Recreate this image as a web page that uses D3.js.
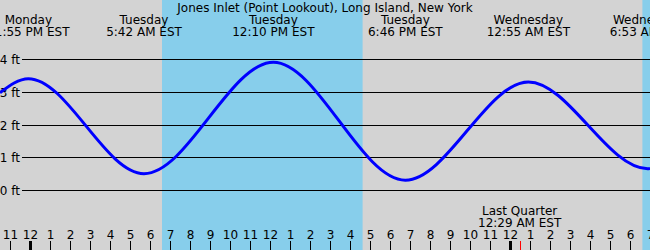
<!DOCTYPE html>
<html>
<head>
<meta charset="utf-8">
<script src="https://cdn.jsdelivr.net/npm/d3@7"></script>
<style>
  body { margin: 0; background: #d3d3d3; }
  svg { display: block; font-family: "DejaVu Sans", sans-serif; font-size: 12px; }
</style>
</head>
<body>
<svg id="chart" width="650" height="250"></svg>
<script>
// hours counted from Tuesday 00:00 EST
const title = 'Jones Inlet (Point Lookout), Long Island, New York';

// tide curve points (edges + highs/lows), height in ft
const tideHours = [-1.5, -0.083, 5.7, 12.167, 18.767, 24.917, 30.883, 31];
const tideFeet = [2.97, 3.4, 0.5, 3.9, 0.3, 3.3, 0.65, 0.66];

// high/low labels at the top
const eventHours = [-0.083, 5.7, 12.167, 18.767, 24.917, 30.883];
const eventDays = ['Monday', 'Tuesday', 'Tuesday', 'Tuesday', 'Wednesday', 'Wednesday'];
const eventTimes = ['11:55 PM EST', '5:42 AM EST', '12:10 PM EST', '6:46 PM EST', '12:55 AM EST', '6:53 AM EST'];

// daylight spans (sunrise, sunset)
const daylight = [[6.6, 16.63], [30.62, 40]];

const feetTicks = [0, 1, 2, 3, 4];
const hourTicks = d3.range(-1, 32);

// moon phase
const moonHour = 24.483;
const moonLines = ['Last Quarter', '12:29 AM EST'];

const W = 650, H = 250;
const svg = d3.select('#chart');

const x = d3.scaleLinear().domain([-1.5, 31]).range([0, W]);
const y = d3.scaleLinear().domain([0, 4]).range([190, 59]);

svg.append('rect').attr('width', W).attr('height', H).attr('fill', '#d3d3d3');

// daytime bands
svg.selectAll('rect.day').data(daylight).enter().append('rect')
    .attr('class', 'day')
    .attr('x', d => x(d[0]))
    .attr('y', 0)
    .attr('width', d => x(d[1]) - x(d[0]))
    .attr('height', H)
    .attr('fill', '#87ceeb');

// horizontal ft lines + labels
feetTicks.forEach(f => {
    const yy = Math.round(y(f)) + 0.5;
    svg.append('line').attr('x1', 22).attr('x2', W).attr('y1', yy).attr('y2', yy)
        .attr('stroke', '#000').attr('stroke-width', 1);
    svg.append('text').attr('x', 20).attr('y', yy + 4).attr('text-anchor', 'end')
        .text(f + ' ft');
});

// tide curve
const line = d3.line()
    .x((d, i) => x(tideHours[i]))
    .y(d => y(d))
    .curve(d3.curveMonotoneX);

svg.append('path').datum(tideFeet)
    .attr('d', line)
    .attr('fill', 'none')
    .attr('stroke', '#0000ff')
    .attr('stroke-width', 3);

// title and high/low labels
svg.append('text').attr('x', W / 2).attr('y', 12).attr('text-anchor', 'middle').text(title);

eventHours.forEach((h, i) => {
    svg.append('text').attr('x', x(h)).attr('y', 24).attr('text-anchor', 'middle').text(eventDays[i]);
    svg.append('text').attr('x', x(h)).attr('y', 36).attr('text-anchor', 'middle').text(eventTimes[i]);
});

// hour labels and ticks along the bottom
hourTicks.forEach(h => {
    const xx = Math.round(x(h)) + 0.5;
    const hr = ((h % 12) + 12) % 12;
    svg.append('text').attr('x', xx).attr('y', 239).attr('text-anchor', 'middle')
        .text(hr === 0 ? 12 : hr);
    const midnight = ((h % 24) + 24) % 24 === 0;
    svg.append('line').attr('x1', xx).attr('x2', xx).attr('y1', 241).attr('y2', H)
        .attr('stroke', '#000').attr('stroke-width', midnight ? 3 : 1);
});

// moon phase marker
svg.append('text').attr('x', x(moonHour)).attr('y', 215).attr('text-anchor', 'middle').text(moonLines[0]);
svg.append('text').attr('x', x(moonHour)).attr('y', 227).attr('text-anchor', 'middle').text(moonLines[1]);
svg.append('line').attr('x1', Math.round(x(moonHour)) + 0.5).attr('x2', Math.round(x(moonHour)) + 0.5)
    .attr('y1', 241).attr('y2', H).attr('stroke', '#ff0000').attr('stroke-width', 1);
</script>
</body>
</html>
